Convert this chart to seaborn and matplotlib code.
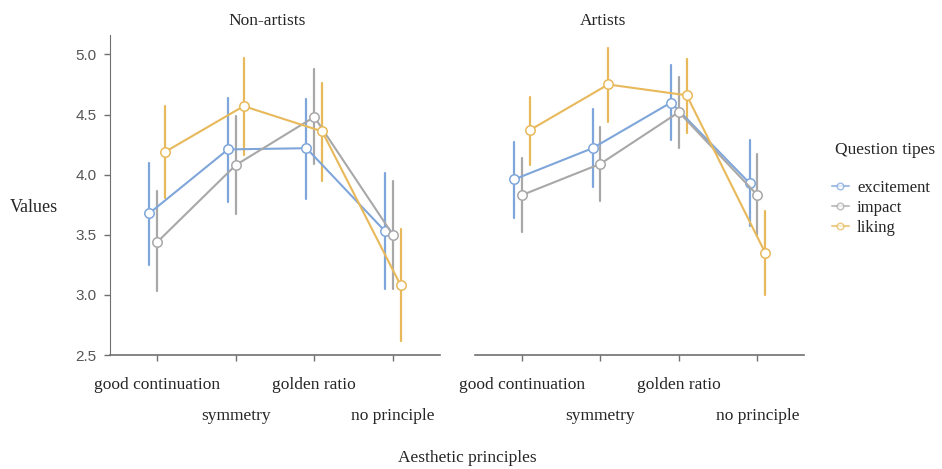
import pandas as pd
import seaborn as sns
import matplotlib.pyplot as plt
import numpy as np

# categories on the x axis and the two groups
principles = ['good continuation', 'symmetry', 'golden ratio', 'no principle']
question_types = ['excitement', 'impact', 'liking']
groups = ['Non-artists', 'Artists']

# Non-artists: mean and interval bounds per question type
na_excitement = [3.68, 4.21, 4.22, 3.53]
na_excitement_lo = [3.25, 3.77, 3.80, 3.05]
na_excitement_hi = [4.10, 4.64, 4.63, 4.01]
na_impact = [3.44, 4.08, 4.48, 3.50]
na_impact_lo = [3.03, 3.67, 4.09, 3.05]
na_impact_hi = [3.86, 4.49, 4.88, 3.95]
na_liking = [4.19, 4.57, 4.36, 3.08]
na_liking_lo = [3.81, 4.16, 3.95, 2.62]
na_liking_hi = [4.57, 4.97, 4.76, 3.55]

# Artists
ar_excitement = [3.96, 4.22, 4.60, 3.93]
ar_excitement_lo = [3.64, 3.90, 4.29, 3.57]
ar_excitement_hi = [4.27, 4.55, 4.91, 4.29]
ar_impact = [3.83, 4.09, 4.52, 3.83]
ar_impact_lo = [3.52, 3.78, 4.22, 3.50]
ar_impact_hi = [4.14, 4.40, 4.81, 4.17]
ar_liking = [4.37, 4.75, 4.66, 3.35]
ar_liking_lo = [4.08, 4.44, 4.35, 3.00]
ar_liking_hi = [4.65, 5.05, 4.96, 3.70]

palette = {'excitement': '#7fa6da', 'impact': '#a8a8a8', 'liking': '#e8b95a'}

# long table: three rows per point (low, mean, high) -> median + full range
series = {
    ('Non-artists', 'excitement'): (na_excitement, na_excitement_lo, na_excitement_hi),
    ('Non-artists', 'impact'): (na_impact, na_impact_lo, na_impact_hi),
    ('Non-artists', 'liking'): (na_liking, na_liking_lo, na_liking_hi),
    ('Artists', 'excitement'): (ar_excitement, ar_excitement_lo, ar_excitement_hi),
    ('Artists', 'impact'): (ar_impact, ar_impact_lo, ar_impact_hi),
    ('Artists', 'liking'): (ar_liking, ar_liking_lo, ar_liking_hi),
}
rows = []
for (grp, q), (mean, lo, hi) in series.items():
    for p, m, l, h in zip(principles, mean, lo, hi):
        for v in (l, m, h):
            rows.append({'group': grp, 'question': q, 'principle': p, 'value': v})
df = pd.DataFrame(rows)

sns.set_style("ticks")
plt.rcParams['font.family'] = ['Liberation Serif', 'DejaVu Serif']

fig = plt.figure(figsize=(9.42, 4.69), dpi=100)
ax1 = fig.add_axes([0.117, 0.243, 0.350, 0.682])
ax2 = fig.add_axes([0.504, 0.243, 0.350, 0.682], sharey=ax1)

title_x = {'Non-artists': 0.476, 'Artists': 0.388}
for ax, grp in zip([ax1, ax2], groups):
    sns.pointplot(data=df[df['group'] == grp], x='principle', y='value',
                  hue='question', order=principles, hue_order=question_types,
                  palette=palette, estimator=np.median, errorbar=('pi', 100),
                  dodge=0.2, markers='o', linewidth=1.5, markersize=6.8,
                  err_kws={'linewidth': 1.6}, ax=ax)
    # put the mean lines with their white markers above the error bars
    for line in ax.lines:
        if line.get_marker() not in (None, 'None', '', ' '):
            line.set_markerfacecolor('white')
            line.set_markeredgewidth(1.1)
            line.set_zorder(4)
        else:
            line.set_zorder(2)
    ax.get_legend().remove()
    ax.set_xlim(-0.6, 3.6)
    ax.set_ylim(2.5, 5.16)
    ax.set_xlabel('')
    ax.set_ylabel('')
    ax.text(title_x[grp], 1.045, grp, transform=ax.transAxes, ha='center',
            va='center', fontsize=12.5)
    for side in ['top', 'right']:
        ax.spines[side].set_visible(False)
    ax.spines['bottom'].set_color('#707070')
    ax.spines['left'].set_color('#707070')
    ax.spines['bottom'].set_linewidth(1.2)
    ax.tick_params(axis='x', length=4, width=1, color='#707070', labelsize=12.5,
                   pad=12)
    for i, tick in enumerate(ax.xaxis.get_major_ticks()):
        if i % 2 == 1:
            tick.set_pad(34)

ax1.set_yticks([2.5, 3.0, 3.5, 4.0, 4.5, 5.0])
ax1.tick_params(axis='y', length=4, width=1, color='#707070', labelsize=11,
                labelcolor='#555555', pad=6)
for lab in ax1.get_yticklabels():
    lab.set_fontfamily('Liberation Sans')
ax2.spines['left'].set_visible(False)
ax2.tick_params(axis='y', left=False, labelleft=False)

fig.text(10 / 942, 1 - 207 / 469, 'Values', ha='left', va='center', fontsize=13)
fig.text(467 / 942, 1 - 458 / 469, 'Aesthetic principles', ha='center',
         va='center', fontsize=12.5)

# legend
handles, labels = ax2.get_legend_handles_labels()
fig.text(835 / 942, 1 - 150 / 469, 'Question tipes', ha='left', va='center',
         fontsize=12.5)
leg = fig.legend(handles, labels, loc='upper left',
                 bbox_to_anchor=(832 / 942, 1 - 180 / 469), frameon=False,
                 fontsize=12, handlelength=1.0, handletextpad=0.5,
                 labelspacing=0.25, markerscale=0.7, borderaxespad=0,
                 borderpad=0)
for h in leg.legend_handles:
    h.set_alpha(0.7)

plt.savefig('out.png', dpi=100)
